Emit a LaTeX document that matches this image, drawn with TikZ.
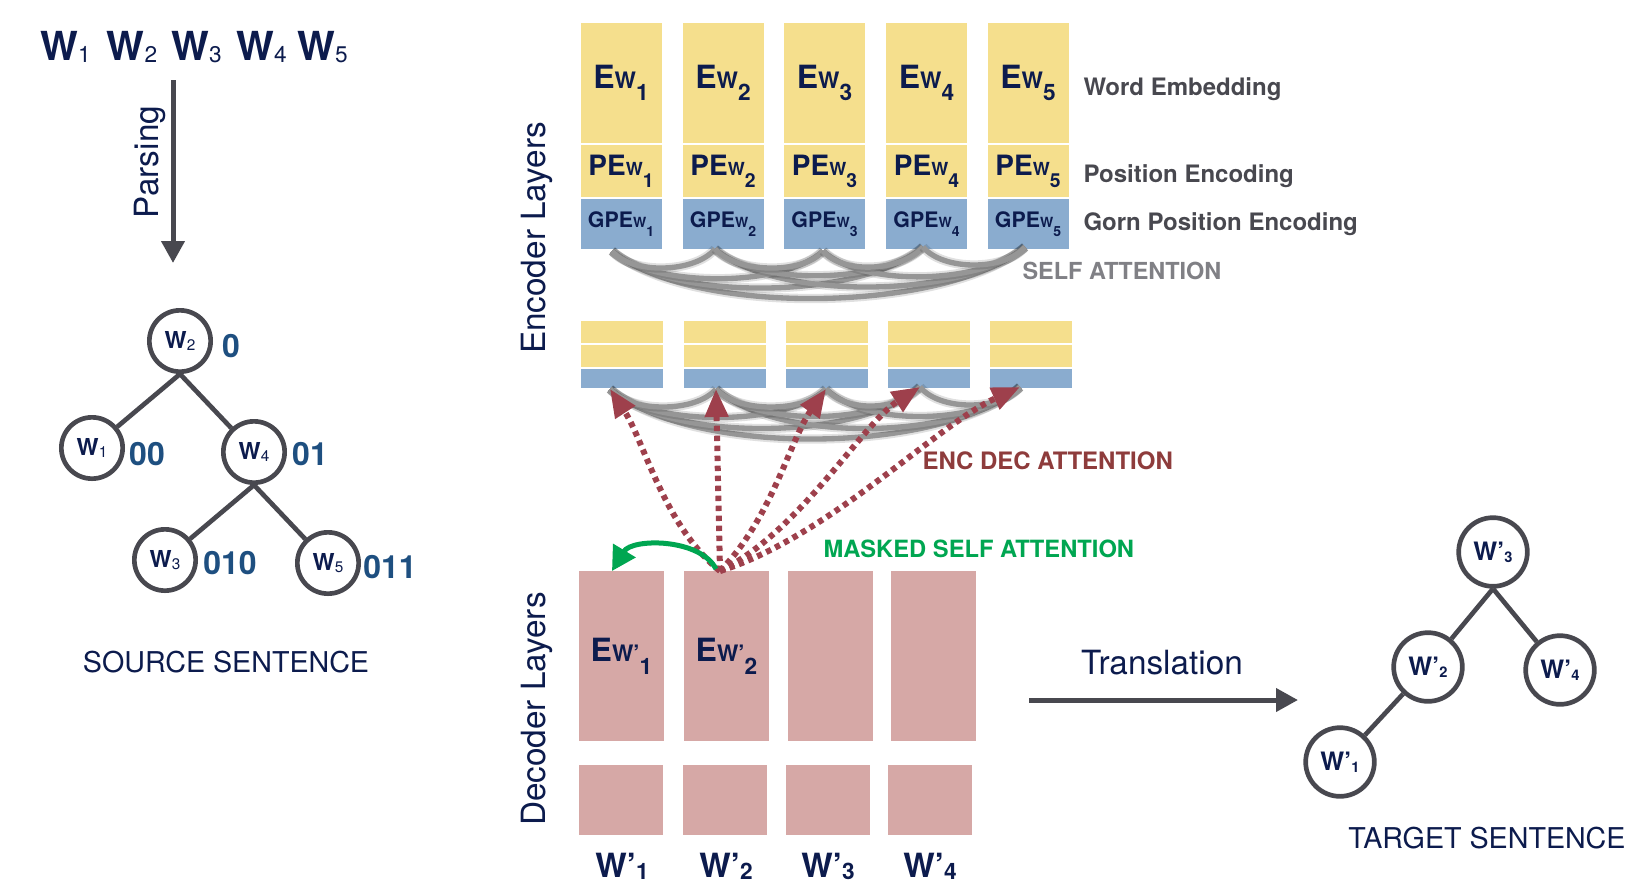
\documentclass[tikz,border=0pt]{standalone}
\usepackage{fontspec}
\setmainfont{TeX Gyre Heros}
\usetikzlibrary{arrows.meta}

\definecolor{navy}{RGB}{12,27,77}
\definecolor{embyellow}{RGB}{245,223,141}
\definecolor{gpeblue}{RGB}{138,172,207}
\definecolor{decpink}{RGB}{214,168,166}
\definecolor{treegray}{RGB}{72,72,79}
\definecolor{arcgray}{RGB}{150,150,150}
\definecolor{selfgray}{RGB}{128,128,133}
\definecolor{attnred}{RGB}{158,64,76}
\definecolor{encdecred}{RGB}{142,60,60}
\definecolor{maskgreen}{RGB}{0,166,81}
\definecolor{gornblue}{RGB}{30,79,128}

% label texts
\newcommand{\elbl}[1]{{\fontsize{24}{24}\selectfont E}{\fontsize{17}{17}\selectfont W\raisebox{-8.8pt}{#1}}}
\newcommand{\pelbl}[1]{{\fontsize{21}{21}\selectfont PE}{\fontsize{13.5}{13.5}\selectfont W\raisebox{-9pt}{\fontsize{14.5}{14.5}\selectfont #1}}}
\newcommand{\gpelbl}[1]{{\fontsize{16}{16}\selectfont GPE}{\fontsize{10.5}{10.5}\selectfont W\raisebox{-6.7pt}{#1}}}
\newcommand{\delbl}[1]{{\fontsize{24}{24}\selectfont E}{\fontsize{17}{17}\selectfont W'\raisebox{-9.7pt}{#1}}}
\newcommand{\topw}[1]{{\fontsize{30}{30}\selectfont W}\raisebox{-1.5pt}{\fontsize{17}{17}\selectfont\mdseries #1}}
\newcommand{\srcw}[1]{{\fontsize{17.5}{17.5}\selectfont W}\raisebox{-1pt}{\fontsize{11.5}{11.5}\selectfont\mdseries #1}}
\newcommand{\tgtw}[1]{{\fontsize{19}{19}\selectfont W'}\raisebox{-1.3pt}{\fontsize{11}{11}\selectfont #1}}
\newcommand{\outw}[1]{{\fontsize{25}{25}\selectfont W'}\raisebox{-2pt}{\fontsize{17}{17}\selectfont #1}}

\tikzset{every picture/.style={line width=0.75pt}}
\tikzset{
	embbox/.style={fill=embyellow, inner sep=0pt, minimum width=60.75pt, text=navy, font=\bfseries},
	gpebox/.style={fill=gpeblue, inner sep=0pt, minimum width=60.75pt, minimum height=37.5pt, text=navy, font=\bfseries},
	hidbox/.style={inner sep=0pt, minimum width=61.5pt},
	decbox/.style={fill=decpink, inner sep=0pt, text=navy, font=\bfseries},
	snode/.style={circle, draw=treegray, line width=3.5pt, inner sep=0pt, minimum size=46pt, text=navy, font=\bfseries},
	tnode/.style={circle, draw=treegray, line width=3.5pt, inner sep=0pt, minimum size=51.5pt, text=navy, font=\bfseries},
	tedge/.style={draw=treegray, line width=3.5pt},
	bigarrow/.style={draw=treegray, line width=3.75pt, -{Triangle[length=16.5pt,width=17pt]}},
	selfarc/.style={draw=arcgray, line width=4pt, preaction={draw=black, opacity=0.12, line width=7pt}},
	encdec/.style={draw=attnred, line width=4.5pt, dash pattern=on 4pt off 3.5pt, -{Triangle[length=21pt,width=17pt]}},
	masked/.style={draw=maskgreen, line width=3.75pt, -{Triangle[length=18pt,width=19pt]}},
	sidelbl/.style={anchor=base west, inner sep=0pt, text=treegray, font=\bfseries\fontsize{18}{18}\selectfont},
	layerlbl/.style={rotate=90, inner sep=0pt, text=navy, font=\fontsize{25}{25}\selectfont},
	gornlbl/.style={inner sep=0pt, text=gornblue, font=\bfseries\fontsize{24}{24}\selectfont},
}

\begin{document}
\begin{tikzpicture}[x=0.75pt,y=0.75pt,yscale=-1,xscale=1]
	\useasboundingbox (0,0) rectangle (1642,890);

	% source sentence and its tree
	\node [anchor=base, inner sep=0pt, text=navy, font=\bfseries] (word1) at (65.5,60) {\topw{1}};
	\node [anchor=base, inner sep=0pt, text=navy, font=\bfseries] (word2) at (132,60) {\topw{2}};
	\node [anchor=base, inner sep=0pt, text=navy, font=\bfseries] (word3) at (196.5,60) {\topw{3}};
	\node [anchor=base, inner sep=0pt, text=navy, font=\bfseries] (word4) at (261.5,60) {\topw{4}};
	\node [anchor=base, inner sep=0pt, text=navy, font=\bfseries] (word5) at (322.5,60) {\topw{5}};
	\coordinate (parsetop) at (173,80);
	\coordinate (parsebot) at (173,263);
	\draw [bigarrow] (parsetop) -- (parsebot);
	\node [layerlbl] (parselbl) at (150,162) {Parsing};

	\node [snode] (sw2) at (180,341) {\srcw{2}};
	\node [snode] (sw1) at (92,448) {\srcw{1}};
	\node [snode] (sw4) at (254,452) {\srcw{4}};
	\node [snode] (sw3) at (165,560) {\srcw{3}};
	\node [snode] (sw5) at (328,563) {\srcw{5}};
	\draw [tedge] (sw2.south) -- (sw1);
	\draw [tedge] (sw2.south) -- (sw4);
	\draw [tedge] (sw4.south) -- (sw3);
	\draw [tedge] (sw4.south) -- (sw5);
	\node [gornlbl] (g0) at (231,346) {0};
	\node [gornlbl] (g00) at (147,454) {00};
	\node [gornlbl] (g01) at (310,454) {01};
	\node [gornlbl] (g010) at (230,563) {010};
	\node [gornlbl] (g011) at (390,567) {011};
	\node [inner sep=0pt, text=navy, font=\fontsize{21.5}{21.5}\selectfont] (srclbl) at (226,662) {SOURCE SENTENCE};

	% encoder
	\node [layerlbl] (enclbl) at (537,238) {Encoder Layers};
	\node [embbox, minimum height=90pt] (e1) at (621,83) {\elbl{1}};
	\node [embbox, minimum height=90pt] (e2) at (723,83) {\elbl{2}};
	\node [embbox, minimum height=90pt] (e3) at (824.5,83) {\elbl{3}};
	\node [embbox, minimum height=90pt] (e4) at (926.5,83) {\elbl{4}};
	\node [embbox, minimum height=90pt] (e5) at (1028,83) {\elbl{5}};
	\node [embbox, minimum height=39pt] (pe1) at (621,171) {\pelbl{1}};
	\node [embbox, minimum height=39pt] (pe2) at (723,171) {\pelbl{2}};
	\node [embbox, minimum height=39pt] (pe3) at (824.5,171) {\pelbl{3}};
	\node [embbox, minimum height=39pt] (pe4) at (926.5,171) {\pelbl{4}};
	\node [embbox, minimum height=39pt] (pe5) at (1028,171) {\pelbl{5}};
	\node [gpebox] (gpe1) at (621,224) {\gpelbl{1}};
	\node [gpebox] (gpe2) at (723,224) {\gpelbl{2}};
	\node [gpebox] (gpe3) at (824.5,224) {\gpelbl{3}};
	\node [gpebox] (gpe4) at (926.5,224) {\gpelbl{4}};
	\node [gpebox] (gpe5) at (1028,224) {\gpelbl{5}};
	\node [sidelbl] (wordemb) at (1083,95) {Word Embedding};
	\node [sidelbl] (posenc) at (1083,182) {Position Encoding};
	\node [sidelbl] (gornenc) at (1083,230) {Gorn Position Encoding};

	\coordinate (t1) at (612,251);
	\coordinate (t2) at (715,249);
	\coordinate (t3) at (823,251);
	\coordinate (t4) at (923,247);
	\coordinate (t5) at (1025,247);
	\draw [selfarc] (t1) .. controls +(80,66) and +(-80,66) .. (t5);
	\draw [selfarc] (t1) .. controls +(60,52) and +(-60,52) .. (t4);
	\draw [selfarc] (t2) .. controls +(60,52) and +(-60,52) .. (t5);
	\draw [selfarc] (t1) .. controls +(40,37) and +(-40,37) .. (t3);
	\draw [selfarc] (t2) .. controls +(40,37) and +(-40,37) .. (t4);
	\draw [selfarc] (t3) .. controls +(40,37) and +(-40,37) .. (t5);
	\draw [selfarc] (t1) .. controls +(20,24) and +(-20,24) .. (t2);
	\draw [selfarc] (t2) .. controls +(20,24) and +(-20,24) .. (t3);
	\draw [selfarc] (t3) .. controls +(20,24) and +(-20,24) .. (t4);
	\draw [selfarc] (t4) .. controls +(20,24) and +(-20,24) .. (t5);
	\node [sidelbl, text=selfgray, font=\bfseries\fontsize{17.6}{17.6}\selectfont] (selflbl) at (1022,279) {SELF ATTENTION};

	\node [hidbox, fill=embyellow, minimum height=16.5pt] (ha1) at (622,332) {};
	\node [hidbox, fill=embyellow, minimum height=16.5pt] (ha2) at (724.5,332) {};
	\node [hidbox, fill=embyellow, minimum height=16.5pt] (ha3) at (826.5,332) {};
	\node [hidbox, fill=embyellow, minimum height=16.5pt] (ha4) at (928.5,332) {};
	\node [hidbox, fill=embyellow, minimum height=16.5pt] (ha5) at (1031,332) {};
	\node [hidbox, fill=embyellow, minimum height=16.5pt] (hb1) at (622,356) {};
	\node [hidbox, fill=embyellow, minimum height=16.5pt] (hb2) at (724.5,356) {};
	\node [hidbox, fill=embyellow, minimum height=16.5pt] (hb3) at (826.5,356) {};
	\node [hidbox, fill=embyellow, minimum height=16.5pt] (hb4) at (928.5,356) {};
	\node [hidbox, fill=embyellow, minimum height=16.5pt] (hb5) at (1031,356) {};
	\node [hidbox, fill=gpeblue, minimum height=14.25pt] (hg1) at (622,378.5) {};
	\node [hidbox, fill=gpeblue, minimum height=14.25pt] (hg2) at (724.5,378.5) {};
	\node [hidbox, fill=gpeblue, minimum height=14.25pt] (hg3) at (826.5,378.5) {};
	\node [hidbox, fill=gpeblue, minimum height=14.25pt] (hg4) at (928.5,378.5) {};
	\node [hidbox, fill=gpeblue, minimum height=14.25pt] (hg5) at (1031,378.5) {};

	\coordinate (b1) at (610,389);
	\coordinate (b2) at (716,389);
	\coordinate (b3) at (826,389);
	\coordinate (b4) at (920,387);
	\coordinate (b5) at (1020,387);
	\draw [selfarc] (b1) .. controls +(80,68) and +(-80,68) .. (b5);
	\draw [selfarc] (b1) .. controls +(60,54) and +(-60,54) .. (b4);
	\draw [selfarc] (b2) .. controls +(60,54) and +(-60,54) .. (b5);
	\draw [selfarc] (b1) .. controls +(40,38) and +(-40,38) .. (b3);
	\draw [selfarc] (b2) .. controls +(40,38) and +(-40,38) .. (b4);
	\draw [selfarc] (b3) .. controls +(40,38) and +(-40,38) .. (b5);
	\draw [selfarc] (b1) .. controls +(20,24) and +(-20,24) .. (b2);
	\draw [selfarc] (b2) .. controls +(20,24) and +(-20,24) .. (b3);
	\draw [selfarc] (b3) .. controls +(20,24) and +(-20,24) .. (b4);
	\draw [selfarc] (b4) .. controls +(20,24) and +(-20,24) .. (b5);

	% decoder
	\node [layerlbl] (declbl) at (537,709) {Decoder Layers};
	\node [decbox, minimum width=63.75pt, minimum height=127.5pt] (d1) at (621.5,656) {\delbl{1}};
	\node [decbox, minimum width=63.75pt, minimum height=127.5pt] (d2) at (726.5,656) {\delbl{2}};
	\node [decbox, minimum width=63.75pt, minimum height=127.5pt] (d3) at (830,656) {};
	\node [decbox, minimum width=63.75pt, minimum height=127.5pt] (d4) at (933.5,656) {};
	\node [decbox, minimum width=63pt, minimum height=52.5pt] (db1) at (621,800) {};
	\node [decbox, minimum width=63pt, minimum height=52.5pt] (db2) at (725,800) {};
	\node [decbox, minimum width=63pt, minimum height=52.5pt] (db3) at (827.5,800) {};
	\node [decbox, minimum width=63pt, minimum height=52.5pt] (db4) at (930,800) {};
	\node [anchor=base, inner sep=0pt, text=navy, font=\bfseries] (out1) at (622,877) {\outw{1}};
	\node [anchor=base, inner sep=0pt, text=navy, font=\bfseries] (out2) at (726,877) {\outw{2}};
	\node [anchor=base, inner sep=0pt, text=navy, font=\bfseries] (out3) at (828,877) {\outw{3}};
	\node [anchor=base, inner sep=0pt, text=navy, font=\bfseries] (out4) at (930,877) {\outw{4}};

	% attention between decoder and encoder
	\coordinate (src) at (720,571);
	\draw [encdec] (src) .. controls (664,526) and (644,441) .. (b1);
	\draw [encdec] (src) -- (b2);
	\draw [encdec] (src) .. controls (772,518) and (790,440) .. (b3);
	\draw [encdec] (src) .. controls (800,532) and (862,424) .. (b4);
	\draw [encdec] (src) .. controls (830,536) and (935,426) .. (b5);
	\coordinate (msrc) at (716,569);
	\coordinate (mdst) at (612,571);
	\draw [masked] (msrc) .. controls (700,538) and (632,538) .. (mdst);
	\node [sidelbl, text=encdecred] (encdeclbl) at (922,469) {ENC DEC ATTENTION};
	\node [sidelbl, text=maskgreen, font=\bfseries\fontsize{17.8}{17.8}\selectfont] (masklbl) at (823,557) {MASKED SELF ATTENTION};

	% translation and target tree
	\coordinate (trstart) at (1029,700);
	\coordinate (trend) at (1298,700);
	\draw [bigarrow] (trstart) -- (trend);
	\node [inner sep=0pt, text=navy, font=\fontsize{25}{25}\selectfont] (translbl) at (1162,663) {Translation};

	\node [tnode] (tw3) at (1493,552) {\tgtw{3}};
	\node [tnode] (tw2) at (1428,667) {\tgtw{2}};
	\node [tnode] (tw4) at (1560,670) {\tgtw{4}};
	\node [tnode] (tw1) at (1340,762) {\tgtw{1}};
	\draw [tedge] (tw3.south) -- (tw2);
	\draw [tedge] (tw3.south) -- (tw4);
	\draw [tedge] (tw2) -- (tw1);
	\node [inner sep=0pt, text=navy, font=\fontsize{21.5}{21.5}\selectfont] (tgtlbl) at (1487,838) {TARGET SENTENCE};
\end{tikzpicture}
\end{document}
